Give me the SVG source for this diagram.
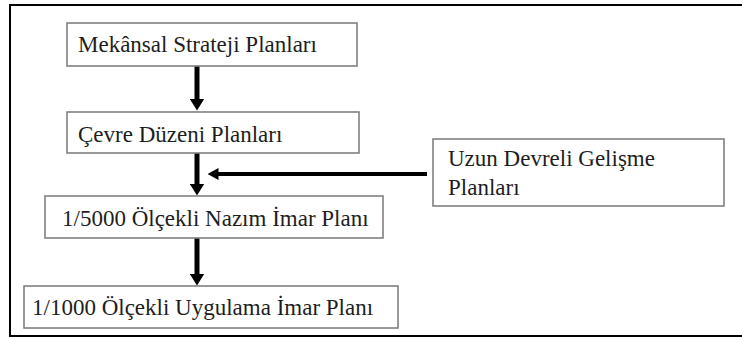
<svg xmlns="http://www.w3.org/2000/svg" width="742" height="338" viewBox="0 0 742 338">
  <style>
    .box { fill: #ffffff; stroke: #808080; stroke-width: 1.6; }
    .lbl { font-family: "Liberation Serif", "Times New Roman", serif; font-size: 23px; fill: #1e1e1e; }
    .conn { stroke: #000000; fill: none; }
  </style>
  <defs>
    <marker id="headV" markerUnits="userSpaceOnUse" viewBox="0 0 12 15" markerWidth="12" markerHeight="15" refX="0.5" refY="7.5" orient="auto">
      <path d="M0,0 L12,7.5 L0,15 z" fill="#000000"/>
    </marker>
    <marker id="headH" markerUnits="userSpaceOnUse" viewBox="0 0 11 12" markerWidth="11" markerHeight="12" refX="0.5" refY="6" orient="auto">
      <path d="M0,0 L11,6 L0,12 z" fill="#000000"/>
    </marker>
  </defs>
  <rect x="0" y="0" width="742" height="338" fill="#ffffff"/>
  <path d="M742,5 H10 V336 H742" fill="none" stroke="#000000" stroke-width="2"/>

  <g id="connectors">
    <line class="conn" x1="197" y1="66" x2="197" y2="99" stroke-width="5" marker-end="url(#headV)"/>
    <line class="conn" x1="197" y1="153" x2="197" y2="184" stroke-width="5" marker-end="url(#headV)"/>
    <line class="conn" x1="197" y1="238" x2="197" y2="274" stroke-width="5" marker-end="url(#headV)"/>
    <line class="conn" x1="427" y1="174" x2="218" y2="174" stroke-width="4" marker-end="url(#headH)"/>
  </g>

  <g id="mekansal">
    <rect class="box" x="67" y="23" width="290" height="43"/>
    <text class="lbl" x="78" y="52">Mekânsal Strateji Planları</text>
  </g>
  <g id="cevre">
    <rect class="box" x="67" y="112" width="292" height="41"/>
    <text class="lbl" x="78" y="142">Çevre Düzeni Planları</text>
  </g>
  <g id="nazim">
    <rect class="box" x="45" y="196" width="338" height="42"/>
    <text class="lbl" x="62" y="226">1/5000 Ölçekli Nazım İmar Planı</text>
  </g>
  <g id="uygulama">
    <rect class="box" x="24" y="286" width="374" height="42"/>
    <text class="lbl" x="32" y="315">1/1000 Ölçekli Uygulama İmar Planı</text>
  </g>
  <g id="uzun">
    <rect class="box" x="433" y="139" width="291" height="67"/>
    <text class="lbl" x="448" y="166">Uzun Devreli Gelişme</text>
    <text class="lbl" x="448" y="195">Planları</text>
  </g>
</svg>
